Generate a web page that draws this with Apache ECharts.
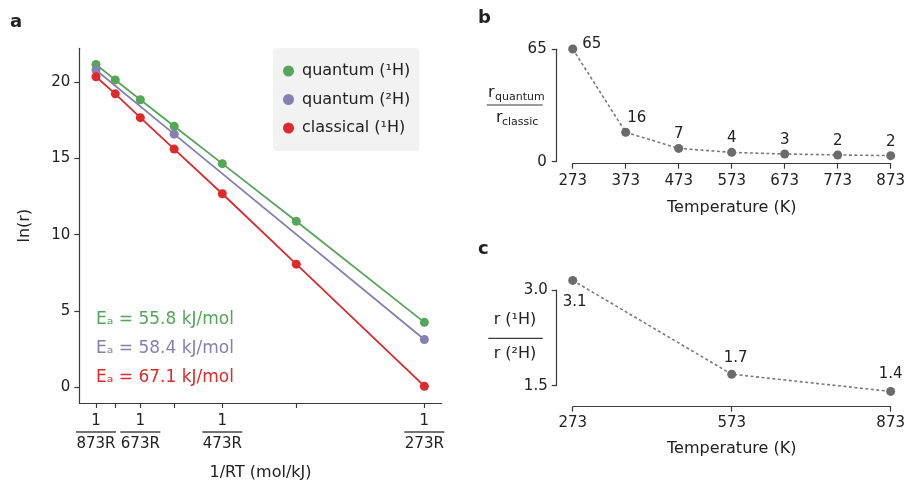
<!DOCTYPE html>
<html>
<head>
<meta charset="utf-8">
<script src="https://cdn.jsdelivr.net/npm/echarts@6/dist/echarts.min.js"></script>
<style>
  html, body { margin: 0; padding: 0; background: #fff; }
  #chart { width: 908px; height: 486px; }
</style>
</head>
<body>
<div id="chart"></div>
<script>
// panel a: Arrhenius plot
var temps = [873, 773, 673, 573, 473, 373, 273];
var invRT = [0.1378, 0.1556, 0.1787, 0.2099, 0.2543, 0.3225, 0.4406];
var lnQuantumH = [21.14, 20.13, 18.83, 17.1, 14.65, 10.88, 4.26];
var deutTemps = [873, 573, 273];
var lnQuantumD = [20.78, 16.58, 3.14];
var lnClassical = [20.34, 19.22, 17.66, 15.6, 12.68, 8.07, 0.08];
var fracTemps = [873, 673, 473, 273];
var lnTicks = [0, 5, 10, 15, 20];
var activation = [55.8, 58.4, 67.1];
var seriesNames = ['quantum (\u00b9H)', 'quantum (\u00b2H)', 'classical (\u00b9H)'];

// panel b: r_quantum / r_classic
var ratioTemps = ['273', '373', '473', '573', '673', '773', '873'];
var ratioValues = [65.2, 17.0, 7.7, 5.4, 4.45, 3.9, 3.5];
var ratioLabels = ['65', '16', '7', '4', '3', '2', '2'];

// panel c: r(1H) / r(2H)
var isoTemps = ['273', '573', '873'];
var isoValues = [3.15, 1.68, 1.41];
var isoLabels = ['3.1', '1.7', '1.4'];

var colors = ['#55a758', '#8480b2', '#de2a2a'];
var FONT = 'DejaVu Sans';
var ink = '#222';
var axisCol = '#3a3a3a';

function xOf(t) { return invRT[temps.indexOf(t)]; }
function pairs(ts, vals) { return ts.map(function (t, i) { return [xOf(t), vals[i]]; }); }

var myChart = echarts.init(document.getElementById('chart'));

var axisLine = { show: true, onZero: false, lineStyle: { color: axisCol, width: 1.2 } };
var axisTick = { show: true, length: 5, lineStyle: { color: axisCol, width: 1.2 } };

var eaTexts = activation.map(function (ea, i) {
    return {
        type: 'text', x: 96, y: 320 + i * 29,
        style: {
            text: 'E\u2090 = ' + ea.toFixed(1) + ' kJ/mol',
            font: '17px "' + FONT + '"', fill: colors[i],
            textAlign: 'left', textVerticalAlign: 'middle'
        }
    };
});

function txt(x, y, s, size, align, weight) {
    return {
        type: 'text', x: x, y: y,
        style: {
            text: s, font: (weight || 'normal') + ' ' + size + 'px "' + FONT + '"', fill: ink,
            textAlign: align || 'left', textVerticalAlign: 'middle'
        }
    };
}
function bar(x1, x2, y) {
    return { type: 'rect', shape: { x: x1, y: y - 0.6, width: x2 - x1, height: 1.2 }, style: { fill: axisCol } };
}

var option = {
    animation: false,
    textStyle: { fontFamily: FONT, color: ink },
    legend: {
        data: seriesNames,
        orient: 'vertical',
        left: 273, top: 48,
        padding: [14, 9, 14, 10],
        itemGap: 10.5,
        itemWidth: 11, itemHeight: 11,
        icon: 'circle',
        backgroundColor: '#f2f2f2',
        borderRadius: 4,
        textStyle: { fontSize: 16, color: ink, fontFamily: FONT, lineHeight: 18, padding: [0, 0, 0, 3] }
    },
    grid: [
        { left: 79.3, top: 48.3, width: 362.4, height: 357.7 },
        { left: 572.7, top: 49.3, width: 319.6, height: 112.4 },
        { left: 572.7, top: 290, width: 320, height: 95.7 }
    ],
    xAxis: [
        {
            gridIndex: 0, type: 'value', min: 0.1224, max: 0.4566,
            splitLine: { show: false },
            axisLine: axisLine, axisTick: Object.assign({}, axisTick, { customValues: invRT }),
            axisLabel: {
                customValues: fracTemps.map(xOf),
                margin: 10,
                formatter: function (v) {
                    var best = 0;
                    for (var i = 0; i < invRT.length; i++) {
                        if (Math.abs(invRT[i] - v) < Math.abs(invRT[best] - v)) best = i;
                    }
                    return '{n|1}\n{b| }\n{d|' + temps[best] + 'R}';
                },
                rich: {
                    n: { fontSize: 15, color: ink, fontFamily: FONT, lineHeight: 17, align: 'center' },
                    b: { width: 40, height: 1.3, backgroundColor: '#444', fontSize: 1, lineHeight: 4 },
                    d: { fontSize: 15, color: ink, fontFamily: FONT, lineHeight: 20, align: 'center' }
                }
            },
            name: '1/RT (mol/kJ)', nameLocation: 'middle', nameGap: 62,
            nameTextStyle: { fontSize: 16, color: ink, fontFamily: FONT }
        },
        {
            gridIndex: 1, type: 'category', data: ratioTemps, boundaryGap: false,
            offset: 2,
            axisLine: axisLine, axisTick: Object.assign({}, axisTick, { alignWithLabel: true }),
            axisLabel: { fontSize: 15, color: ink, margin: 10, fontFamily: FONT },
            name: 'Temperature (K)', nameLocation: 'middle', nameGap: 36,
            nameTextStyle: { fontSize: 16, color: ink, fontFamily: FONT }
        },
        {
            gridIndex: 2, type: 'category', data: isoTemps, boundaryGap: false,
            offset: 21,
            axisLine: axisLine, axisTick: Object.assign({}, axisTick, { alignWithLabel: true }),
            axisLabel: { fontSize: 15, color: ink, margin: 9, fontFamily: FONT },
            name: 'Temperature (K)', nameLocation: 'middle', nameGap: 34,
            nameTextStyle: { fontSize: 16, color: ink, fontFamily: FONT }
        }
    ],
    yAxis: [
        {
            gridIndex: 0, type: 'value', min: -1.02, max: 22.2,
            splitLine: { show: false },
            axisLine: axisLine,
            axisTick: Object.assign({}, axisTick, { customValues: lnTicks }),
            axisLabel: { customValues: lnTicks, fontSize: 15, color: ink, margin: 9, fontFamily: FONT },
            name: 'ln(r)', nameLocation: 'middle', nameGap: 46, nameRotate: 90,
            nameTextStyle: { fontSize: 16, color: ink, fontFamily: FONT }
        },
        {
            gridIndex: 1, type: 'value', min: 0, max: 65, interval: 65,
            offset: 16,
            splitLine: { show: false },
            axisLine: axisLine, axisTick: axisTick,
            axisLabel: { fontSize: 15, color: ink, margin: 10, fontFamily: FONT }
        },
        {
            gridIndex: 2, type: 'value', min: 1.5, max: 3.0, interval: 1.5,
            offset: 16,
            splitLine: { show: false },
            axisLine: axisLine, axisTick: axisTick,
            axisLabel: {
                fontSize: 15, color: ink, margin: 9, fontFamily: FONT,
                formatter: function (v) { return v.toFixed(1); }
            }
        }
    ],
    series: [
        {
            name: seriesNames[0], type: 'line', xAxisIndex: 0, yAxisIndex: 0,
            data: pairs(temps, lnQuantumH),
            symbol: 'circle', symbolSize: 9, color: colors[0],
            lineStyle: { width: 1.8, color: colors[0] }, itemStyle: { color: colors[0] }
        },
        {
            name: seriesNames[1], type: 'line', xAxisIndex: 0, yAxisIndex: 0,
            data: pairs(deutTemps, lnQuantumD),
            symbol: 'circle', symbolSize: 9, color: colors[1],
            lineStyle: { width: 1.8, color: colors[1] }, itemStyle: { color: colors[1] }
        },
        {
            name: seriesNames[2], type: 'line', xAxisIndex: 0, yAxisIndex: 0,
            data: pairs(temps, lnClassical),
            symbol: 'circle', symbolSize: 9, color: colors[2],
            lineStyle: { width: 1.8, color: colors[2] }, itemStyle: { color: colors[2] }
        },
        {
            type: 'line', xAxisIndex: 1, yAxisIndex: 1, clip: false,
            data: ratioValues.map(function (v, i) {
                var d = { value: v };
                if (i === 0) d.label = { position: 'right', offset: [0, -5], distance: 5 };
                if (i === 1) d.label = { offset: [11, 0] };
                return d;
            }),
            symbol: 'circle', symbolSize: 9,
            itemStyle: { color: '#6b6b6b' },
            lineStyle: { color: '#7a7a7a', width: 1.6, type: [3, 2.5] },
            label: {
                show: true, position: 'top', distance: 2, fontSize: 15, color: ink, fontFamily: FONT,
                formatter: function (p) { return ratioLabels[p.dataIndex]; }
            }
        },
        {
            type: 'line', xAxisIndex: 2, yAxisIndex: 2, clip: false,
            data: isoValues.map(function (v, i) {
                var d = { value: v };
                if (i === 0) d.label = { position: 'bottom', distance: 10, offset: [2, 0] };
                if (i === 1) d.label = { offset: [4, 0], distance: 4 };
                return d;
            }),
            symbol: 'circle', symbolSize: 9,
            itemStyle: { color: '#6b6b6b' },
            lineStyle: { color: '#7a7a7a', width: 1.6, type: [3, 2.5] },
            label: {
                show: true, position: 'top', distance: 5, fontSize: 15, color: ink, fontFamily: FONT,
                formatter: function (p) { return isoLabels[p.dataIndex]; }
            }
        }
    ],
    graphic: [
        txt(10, 22, 'a', 18, 'left', 'bold'),
        txt(478, 18, 'b', 18, 'left', 'bold'),
        txt(478, 249, 'c', 18, 'left', 'bold'),
        // y title of panel b
        txt(488, 93, 'r', 16),
        txt(495, 97, 'quantum', 11),
        bar(486.7, 542.7, 105),
        txt(496, 118, 'r', 16),
        txt(502, 122, 'classic', 11),
        // y title of panel c
        txt(515, 320, 'r (\u00b9H)', 16, 'center'),
        bar(488.3, 542.7, 338.3),
        txt(515, 354, 'r (\u00b2H)', 16, 'center')
    ].concat(eaTexts)
};

myChart.setOption(option);
</script>
</body>
</html>
